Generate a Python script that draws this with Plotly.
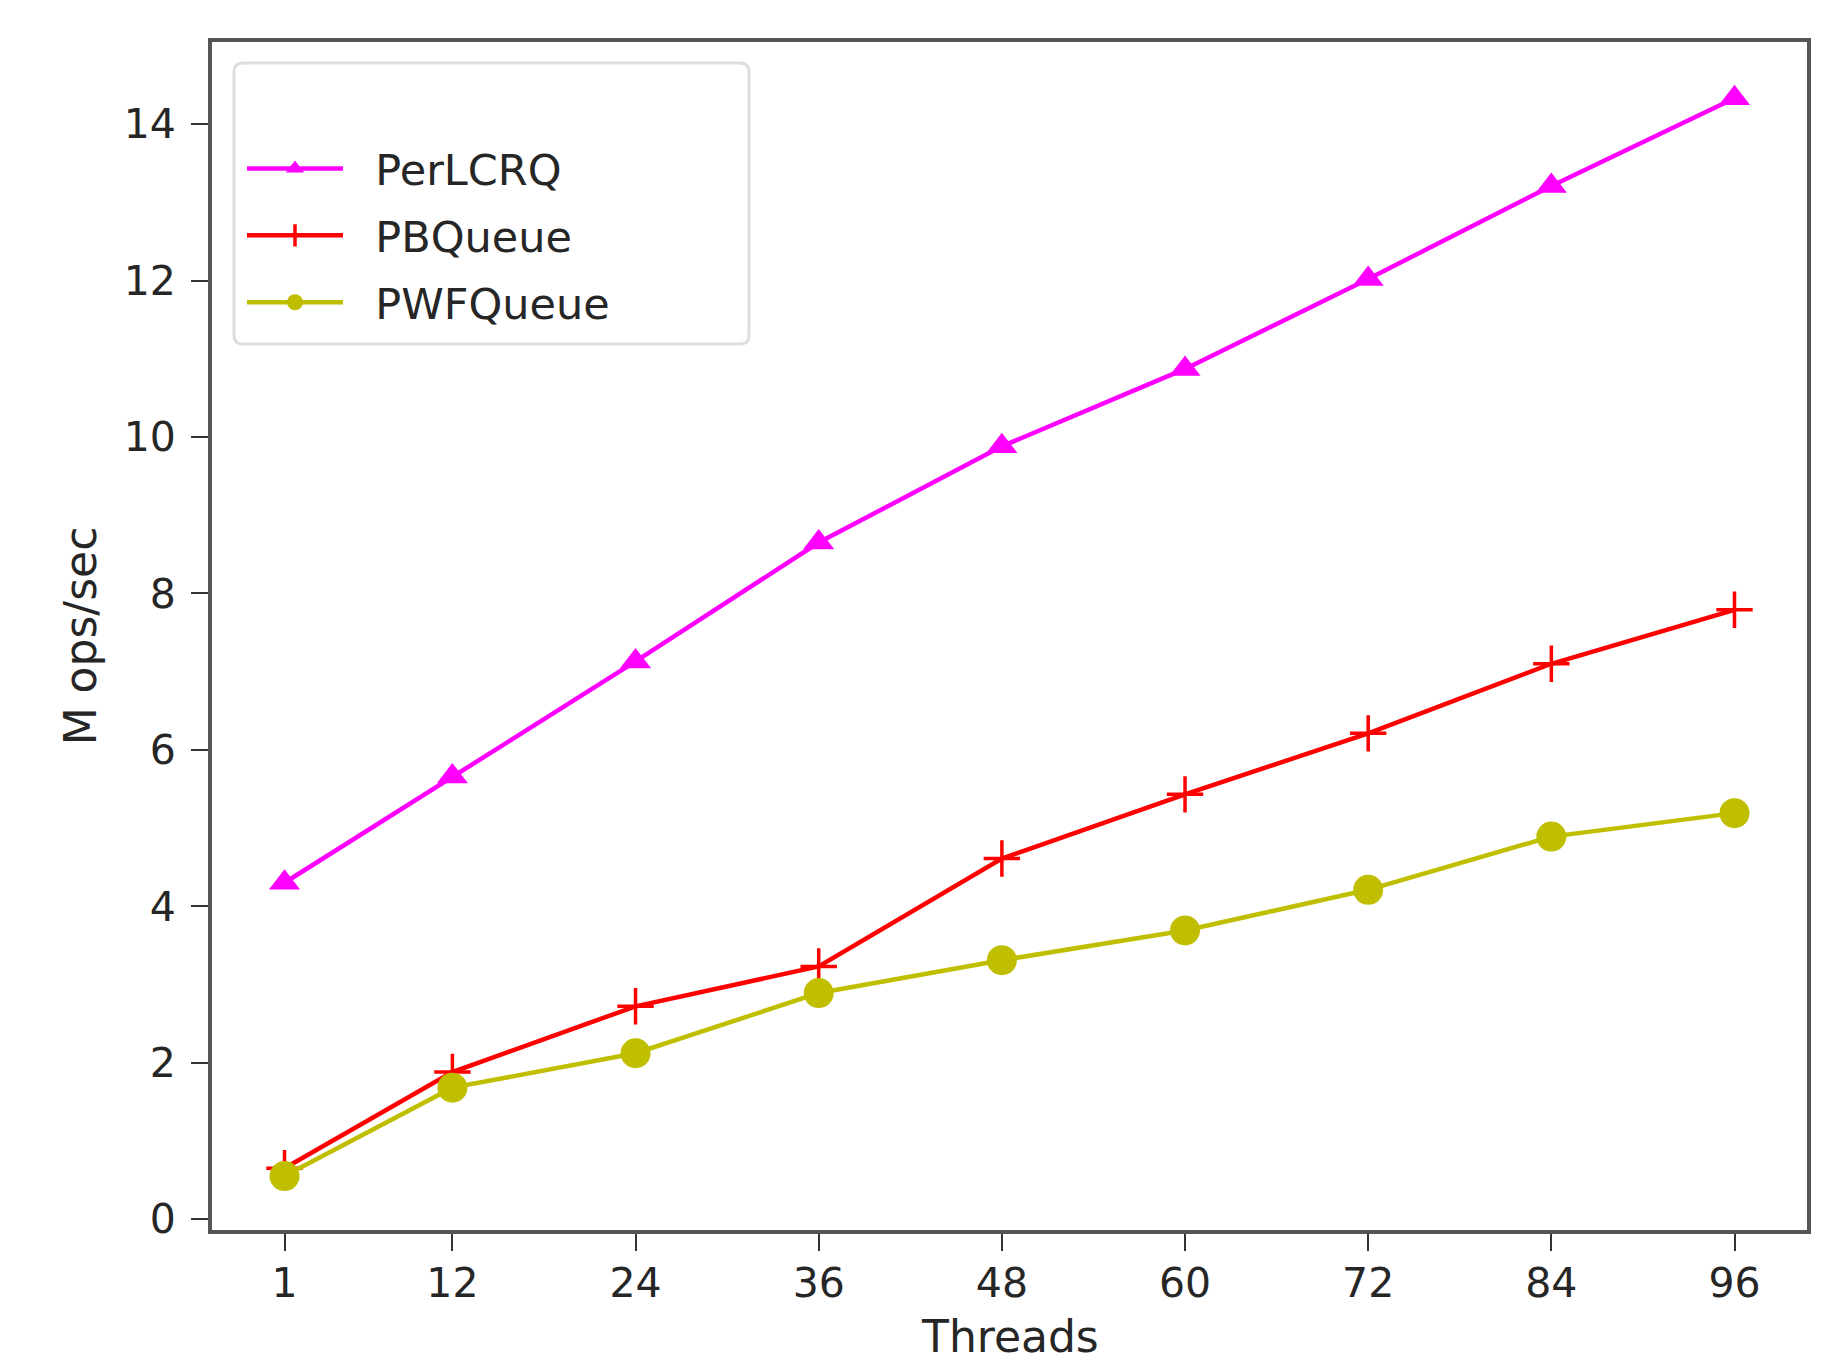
import plotly.graph_objects as go

threads = [1, 12, 24, 36, 48, 60, 72, 84, 96]
perlcrq = [4.30, 5.66, 7.13, 8.65, 9.88, 10.87, 12.02, 13.21, 14.33]
pbqueue = [0.65, 1.88, 2.72, 3.23, 4.61, 5.43, 6.21, 7.10, 7.79]
pwfqueue = [0.55, 1.68, 2.12, 2.89, 3.31, 3.69, 4.21, 4.89, 5.19]
x_ticks = [1, 12, 24, 36, 48, 60, 72, 84, 96]
y_ticks = [0, 2, 4, 6, 8, 10, 12, 14]

W, H = 1823, 1357
ML, MR, MT, MB = 204, 24, 34, 135
FONT = "DejaVu Sans"
TXT = "#262626"

fig = go.Figure()
fig.add_trace(go.Scatter(
    x=threads, y=perlcrq, name="\u00a0\u00a0PerLCRQ", mode="lines+markers", legendgroup="a",
    line=dict(color="#FF00FF", width=4.5),
    marker=dict(symbol="triangle-up", size=27, color="#FF00FF")))
fig.add_trace(go.Scatter(
    x=threads, y=pbqueue, name="\u00a0\u00a0PBQueue", mode="lines+markers", legendgroup="b",
    line=dict(color="#FF0000", width=4.5),
    marker=dict(symbol="cross-thin", size=26, color="#FF0000",
                line=dict(color="#FF0000", width=3.5))))
fig.add_trace(go.Scatter(
    x=threads, y=pwfqueue, name="\u00a0\u00a0PWFQueue", mode="lines+markers", legendgroup="c",
    line=dict(color="#BFBF00", width=4.5),
    marker=dict(symbol="circle", size=30, color="#BFBF00")))

PW = W - ML - MR
PH = H - MT - MB

def px(xf):
    return (xf - ML) / PW

def py(yf):
    return (H - MB - yf) / PH

# rounded legend frame (figure pixels)
x0, x1, y0, y1, r = 226, 741, 55, 336, 9
path = (f"M {px(x0+r)},{py(y0)} L {px(x1-r)},{py(y0)} Q {px(x1)},{py(y0)} {px(x1)},{py(y0+r)} "
        f"L {px(x1)},{py(y1-r)} Q {px(x1)},{py(y1)} {px(x1-r)},{py(y1)} "
        f"L {px(x0+r)},{py(y1)} Q {px(x0)},{py(y1)} {px(x0)},{py(y1-r)} "
        f"L {px(x0)},{py(y0+r)} Q {px(x0)},{py(y0)} {px(x0+r)},{py(y0)} Z")
fig.add_shape(type="path", path=path, xref="paper", yref="paper",
              line=dict(color="#DEDEDE", width=3), fillcolor="rgba(255,255,255,0.8)",
              layer="above")

fig.add_annotation(text="Threads", x=0.5, y=0, xref="paper", yref="paper",
                   xanchor="center", yanchor="middle", yshift=-106, showarrow=False,
                   font=dict(family=FONT, size=44, color=TXT))

fig.update_layout(
    width=W, height=H,
    margin=dict(l=ML, r=MR, t=MT, b=MB, pad=0, autoexpand=False),
    paper_bgcolor="white", plot_bgcolor="white",
    font=dict(family=FONT, size=41, color=TXT),
    showlegend=True,
    legend=dict(
        x=px(234), y=py(126), xanchor="left", yanchor="top",
        bgcolor="rgba(0,0,0,0)", borderwidth=0,
        font=dict(family=FONT, size=43, color=TXT),
        itemwidth=96, tracegroupgap=8,
    ),
    xaxis=dict(
        range=[-3.75, 100.75], tickmode="array", tickvals=x_ticks,
        ticktext=[str(v) for v in x_ticks], automargin=False,
        showgrid=False, zeroline=False,
        showline=True, mirror=True, linecolor="#555555", linewidth=4,
        ticks="outside", ticklen=17, tickwidth=2, tickcolor="#333333",
        ticklabelstandoff=-3,
    ),
    yaxis=dict(
        range=[-0.14, 15.05], tickmode="array", tickvals=y_ticks,
        ticktext=[str(v) for v in y_ticks], automargin=False,
        showgrid=False, zeroline=False,
        showline=True, mirror=True, linecolor="#555555", linewidth=4,
        ticks="outside", ticklen=17, tickwidth=2, tickcolor="#333333",
        ticklabelstandoff=7,
        title=dict(text="M ops/sec", standoff=14, font=dict(family=FONT, size=44, color=TXT)),
    ),
)

fig.write_html("out.html")
